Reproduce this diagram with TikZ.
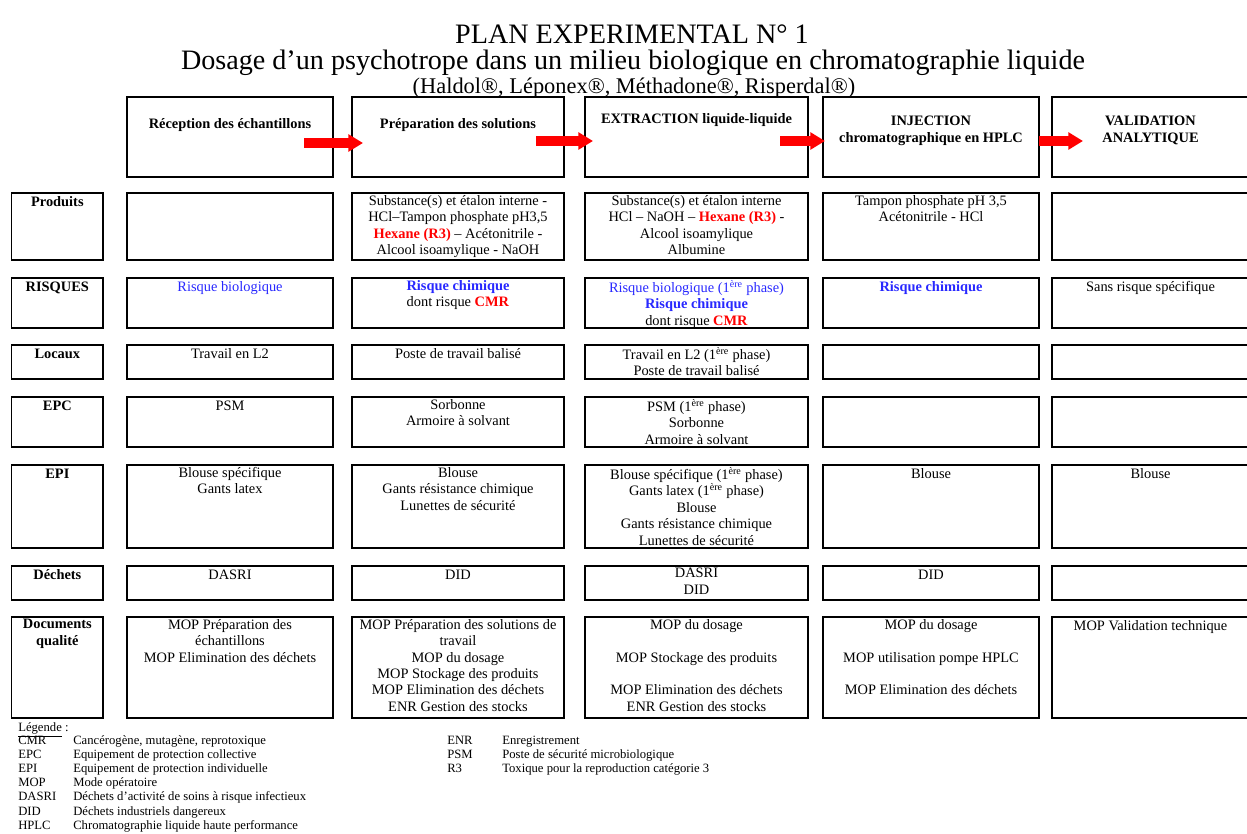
\documentclass[tikz,border=0pt]{standalone}
\usepackage{fontspec}
\setmainfont{Liberation Serif}
\usetikzlibrary{calc,arrows.meta}
\definecolor{rblue}{RGB}{40,40,255}
\definecolor{rred}{RGB}{255,0,0}
\newcommand\cellfont{\fontsize{10.8}{12.3}\selectfont}
\newcommand\legfont{\fontsize{9.5}{10.5}\selectfont}
\newcommand\rb[1]{\textcolor{rred}{\textbf{#1}}}
\newcommand\bb[1]{\textcolor{rblue}{\textbf{#1}}}
\newcommand\bl[1]{\textcolor{rblue}{#1}}
\newcommand\ere{\textsuperscript{ère}}
\newcommand\mkcell[6]{%
  \node[boxst, anchor=north west, minimum width={(#3-#2)*0.75pt}, minimum height={(#5-#4)*0.75pt}] (#1) at (#2,#4) {};
  \node[celltext, anchor=north] (#1t) at ($(#1.north)+(0,2)$) {#6};}
\newcommand\mkhead[5]{%
  \node[boxst, anchor=north west, minimum width={(#3-#2)*0.75pt}, minimum height={80*0.75pt}] (#1) at (#2,97) {};
  \node[celltext, font=\cellfont\bfseries, anchor=north] (#1t) at ($(#1.north)+(0,#4)$) {#5};}
\newcommand\mklab[4]{%
  \node[boxst, anchor=north west, minimum width={(103-11.7)*0.75pt}, minimum height={(#3-#2)*0.75pt}] (#1) at (11.7,#2) {};
  \node[celltext, font=\cellfont\bfseries, anchor=north] (#1t) at ($(#1.north)+(0,2)$) {#4};}
\newcommand\mkleg[5]{%
  \node[legst] (#1a) at (#2,#3) {#4};
  \node[legst] (#1b) at ($(#1a.base west)+(55,0)$) {#5};}
\begin{document}
\begin{tikzpicture}[x=0.75pt,y=-0.75pt,
  boxst/.style={draw=black, line width=0.8pt, inner sep=0pt, outer sep=0pt},
  celltext/.style={font=\cellfont, align=center, inner sep=0pt, execute at begin node=\strut},
  legst/.style={font=\legfont, anchor=base west, inner sep=0pt},
  redarrow/.style={draw=rred, line width=6.8pt, -{Triangle[length=11pt, width=12.5pt]}}]
\useasboundingbox (0,0) rectangle (1247,834);

% titles
\node[font=\fontsize{21.1}{24}\selectfont, anchor=base, inner sep=0pt] (title) at (632,44) {PLAN EXPERIMENTAL N° 1};
\node[font=\fontsize{21.1}{24}\selectfont, anchor=base, inner sep=0pt] (subtitle) at (633,70) {Dosage d’un psychotrope dans un milieu biologique en chromatographie liquide};
\node[font=\fontsize{16.8}{19}\selectfont, anchor=base, inner sep=0pt] (drugs) at (634,94) {(Haldol®, Léponex®, Méthadone®, Risperdal®)};

% header row
\mkhead{h1}{127}{333}{20}{Réception des échantillons}
\mkhead{h2}{352}{564}{20}{Préparation des solutions}
\mkhead{h3}{585}{808}{15}{EXTRACTION liquide-liquide}
\mkhead{h4}{823}{1039}{19}{INJECTION\\chromatographique en HPLC}
\mkhead{h5}{1052}{1249}{19}{VALIDATION\\ANALYTIQUE}

% arrows between header boxes
\draw[redarrow] ($(h1.east)+(-29,6)$) -- ($(h2.west)+(11,6)$);
\draw[redarrow] ($(h2.east)+(-28,4)$) -- ($(h3.west)+(8,4)$);
\draw[redarrow] ($(h3.east)+(-28,4)$) -- ($(h4.west)+(2,4)$);
\draw[redarrow] ($(h4.east)+(0,4)$) -- ($(h5.west)+(31,4)$);

% Produits
\mklab{lP}{193}{260}{Produits}
\mkcell{p1}{127}{333}{193}{260}{}
\mkcell{p2}{352}{564}{193}{260}{Substance(s) et étalon interne -\\HCl–Tampon phosphate pH3,5\\\rb{Hexane (R3)} – Acétonitrile -\\Alcool isoamylique - NaOH}
\mkcell{p3}{585}{808}{193}{260}{Substance(s) et étalon interne\\HCl – NaOH – \rb{Hexane (R3)} -\\Alcool isoamylique\\Albumine}
\mkcell{p4}{823}{1039}{193}{260}{Tampon phosphate pH 3,5\\Acétonitrile - HCl}
\mkcell{p5}{1052}{1249}{193}{260}{}

% RISQUES
\mklab{lR}{278}{328}{RISQUES}
\mkcell{r1}{127}{333}{278}{328}{\bl{Risque biologique}}
\mkcell{r2}{352}{564}{278}{328}{\bb{Risque chimique}\\dont risque \rb{CMR}}
\mkcell{r3}{585}{808}{278}{328}{\bl{Risque biologique (1\ere{} phase)}\\\bb{Risque chimique}\\dont risque \rb{CMR}}
\mkcell{r4}{823}{1039}{278}{328}{\bb{Risque chimique}}
\mkcell{r5}{1052}{1249}{278}{328}{Sans risque spécifique}

% Locaux
\mklab{lL}{345}{379}{Locaux}
\mkcell{l1}{127}{333}{345}{379}{Travail en L2}
\mkcell{l2}{352}{564}{345}{379}{Poste de travail balisé}
\mkcell{l3}{585}{808}{345}{379}{Travail en L2 (1\ere{} phase)\\Poste de travail balisé}
\mkcell{l4}{823}{1039}{345}{379}{}
\mkcell{l5}{1052}{1249}{345}{379}{}

% EPC
\mklab{lC}{397}{447}{EPC}
\mkcell{c1}{127}{333}{397}{447}{PSM}
\mkcell{c2}{352}{564}{397}{447}{Sorbonne\\Armoire à solvant}
\mkcell{c3}{585}{808}{397}{447}{PSM (1\ere{} phase)\\Sorbonne\\Armoire à solvant}
\mkcell{c4}{823}{1039}{397}{447}{}
\mkcell{c5}{1052}{1249}{397}{447}{}

% EPI
\mklab{lI}{465}{548}{EPI}
\mkcell{i1}{127}{333}{465}{548}{Blouse spécifique\\Gants latex}
\mkcell{i2}{352}{564}{465}{548}{Blouse\\Gants résistance chimique\\Lunettes de sécurité}
\mkcell{i3}{585}{808}{465}{548}{Blouse spécifique (1\ere{} phase)\\Gants latex (1\ere{} phase)\\Blouse\\Gants résistance chimique\\Lunettes de sécurité}
\mkcell{i4}{823}{1039}{465}{548}{Blouse}
\mkcell{i5}{1052}{1249}{465}{548}{Blouse}

% Dechets
\mklab{lD}{566}{600}{Déchets}
\mkcell{d1}{127}{333}{566}{600}{DASRI}
\mkcell{d2}{352}{564}{566}{600}{DID}
\mkcell{d3}{585}{808}{566}{600}{DASRI\\DID}
\mkcell{d4}{823}{1039}{566}{600}{DID}
\mkcell{d5}{1052}{1249}{566}{600}{}

% Documents qualite
\mklab{lQ}{617}{718}{Documents\\qualité}
\mkcell{q1}{127}{333}{617}{718}{MOP Préparation des\\échantillons\\MOP Elimination des déchets}
\mkcell{q2}{352}{564}{617}{718}{MOP Préparation des solutions de\\travail\\MOP du dosage\\MOP Stockage des produits\\MOP Elimination des déchets\\ENR Gestion des stocks}
\mkcell{q3}{585}{808}{617}{718}{MOP du dosage\\\mbox{}\\MOP Stockage des produits\\\mbox{}\\MOP Elimination des déchets\\ENR Gestion des stocks}
\mkcell{q4}{823}{1039}{617}{718}{MOP du dosage\\\mbox{}\\MOP utilisation pompe HPLC\\\mbox{}\\MOP Elimination des déchets}
\mkcell{q5}{1052}{1249}{617}{718}{MOP Validation technique}

% legend
\node[legst] (leg) at (18,731.5) {\underline{Légende} :};
\mkleg{lg1}{18}{744.5}{CMR}{Cancérogène, mutagène, reprotoxique}
\mkleg{lg2}{18}{758.6}{EPC}{Equipement de protection collective}
\mkleg{lg3}{18}{772.7}{EPI}{Equipement de protection individuelle}
\mkleg{lg4}{18}{786.8}{MOP}{Mode opératoire}
\mkleg{lg5}{18}{800.9}{DASRI}{Déchets d’activité de soins à risque infectieux}
\mkleg{lg6}{18}{815}{DID}{Déchets industriels dangereux}
\mkleg{lg7}{18}{829.1}{HPLC}{Chromatographie liquide haute performance}
\mkleg{lg8}{447}{744.5}{ENR}{Enregistrement}
\mkleg{lg9}{447}{758.6}{PSM}{Poste de sécurité microbiologique}
\mkleg{lg10}{447}{772.7}{R3}{Toxique pour la reproduction catégorie 3}
\end{tikzpicture}
\end{document}
